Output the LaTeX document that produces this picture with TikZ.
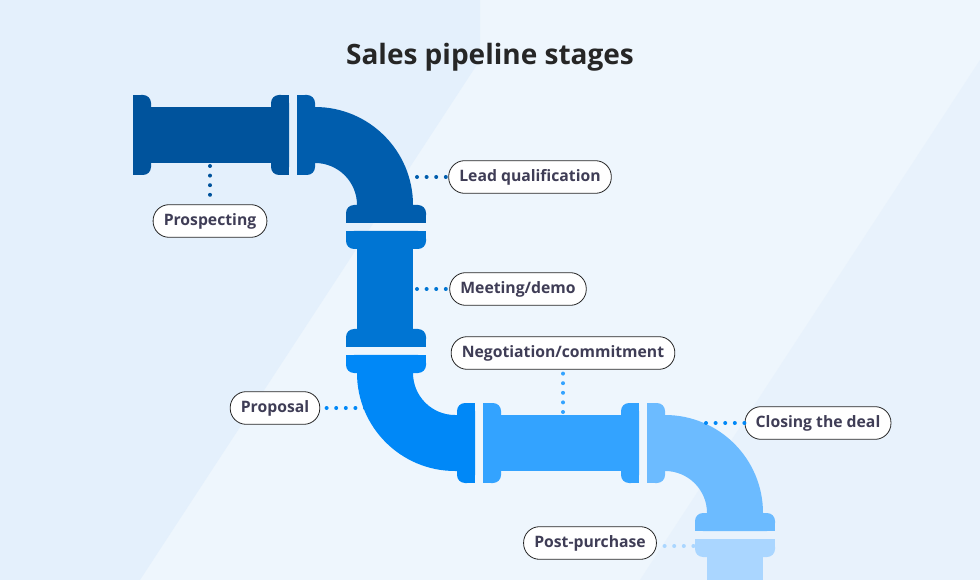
\documentclass[tikz,border=0pt]{standalone}
\usepackage{fontspec}
\setmainfont{Open Sans}
\begin{document}
\begin{tikzpicture}[x=0.75pt,y=-0.75pt,
  lbl/.style={draw=black!85,line width=0.6pt,fill=white,rounded corners=12pt,
    font=\bfseries\fontsize{11.8}{14}\selectfont,text=txt,minimum height=24.5pt,inner xsep=8pt},
  dots/.style={line width=3pt,line cap=round,dash pattern=on 0pt off 7.2pt}]
\definecolor{txt}{HTML}{3F3D56}
\definecolor{cA}{HTML}{00539C}
\definecolor{cB}{HTML}{005DAD}
\definecolor{cC}{HTML}{0075D3}
\definecolor{cD}{HTML}{0088F7}
\definecolor{cE}{HTML}{33A3FF}
\definecolor{cF}{HTML}{6CBBFF}
\definecolor{cG}{HTML}{AAD6FF}
\definecolor{bg}{HTML}{EEF6FD}
\definecolor{bgA}{HTML}{E4F0FC}
\definecolor{bgB}{HTML}{E8F2FC}
\useasboundingbox (0,0) rectangle (980,580);
\clip (0,0) rectangle (980,580);
% background
\fill[bg] (0,0) rectangle (980,580);
\fill[bgA] (0,0) -- (480,0) -- (480,60) -- (140,580) -- (0,580) -- cycle;
\fill[bgB] (980,60) -- (980,580) -- (640,580) -- cycle;
% flange macros
\newcommand{\vflR}[3]{\fill[#1,rounded corners=6] (#2,95+#3) rectangle (#2+18,175+#3);\fill[#1] (#2,95+#3) rectangle (#2+9,175+#3);}
\newcommand{\vflL}[3]{\fill[#1,rounded corners=6] (#2,95+#3) rectangle (#2+18,175+#3);\fill[#1] (#2+9,95+#3) rectangle (#2+18,175+#3);}
\newcommand{\hflD}[3]{\fill[#1,rounded corners=6] (#2,#3) rectangle (#2+80,#3+18);\fill[#1] (#2,#3) rectangle (#2+80,#3+9);}
\newcommand{\hflU}[3]{\fill[#1,rounded corners=6] (#2,#3) rectangle (#2+80,#3+18);\fill[#1] (#2,#3+9) rectangle (#2+80,#3+18);}
% segment 1
\fill[cA] (140,107) rectangle (280,163);
\vflR{cA}{133}{0}
\vflL{cA}{271}{0}
% elbow 1
\fill[cB] (300,107) -- (315,107) arc[start angle=-90,end angle=0,radius=98] -- (357,205)
  arc[start angle=0,end angle=-90,radius=42] -- (300,163) -- cycle;
\vflR{cB}{297}{0}
\hflU{cB}{346}{205}
% segment 3
\fill[cC] (357,240) rectangle (413,340);
\hflD{cC}{346}{231}
\hflU{cC}{346}{329}
% elbow 2
\fill[cD] (357,365) -- (357,373) arc[start angle=180,end angle=90,radius=98] -- (465,471) -- (465,415) -- (455,415)
  arc[start angle=90,end angle=180,radius=42] -- (413,365) -- cycle;
\hflD{cD}{346}{355}
\vflL{cD}{457}{308}
% segment 5
\fill[cE] (490,415) rectangle (630,471);
\vflR{cE}{483}{308}
\vflL{cE}{621}{308}
% elbow 3
\fill[cF] (655,415) -- (665,415) arc[start angle=-90,end angle=0,radius=98] -- (763,520) -- (707,520) -- (707,513)
  arc[start angle=0,end angle=-90,radius=42] -- (655,471) -- cycle;
\vflR{cF}{647}{308}
\hflU{cF}{695}{513}
% segment 6
\fill[cG] (707,550) rectangle (763,585);
\hflD{cG}{695}{539}
% title
\node[font=\bfseries\fontsize{21}{25}\selectfont,text=black!85] (title) at (490,57) {Sales pipeline stages};
% labels
\node[lbl] (pro) at (210,221) {Prospecting};
\node[lbl] (lead) at (530,177) {Lead qualification};
\node[lbl] (meet) at (518,289) {Meeting/demo};
\node[lbl] (neg) at (563,353) {Negotiation/commitment};
\node[lbl] (prop) at (275,408) {Proposal};
\node[lbl] (close) at (818,423) {Closing the deal};
\node[lbl] (post) at (590,543) {Post-purchase};
\coordinate (p1) at (210,166);
\coordinate (p2) at (417,177);
\coordinate (p3) at (417,289);
\coordinate (p4) at (563,412);
\coordinate (p5) at (365,408);
\coordinate (p6) at (706,423);
\coordinate (p7) at (703,546);
\draw[dots,cA] (p1) -- (pro.north);
\draw[dots,cB] (p2) -- (lead.west);
\draw[dots,cC] (p3) -- (meet.west);
\draw[dots,cE] (p4) -- (neg.south);
\draw[dots,cD] (p5) -- (prop.east);
\draw[dots,cD] (p6) -- (close.west);
\draw[dots,cG] (p7) -- (post.east|-p7);
\end{tikzpicture}
\end{document}
